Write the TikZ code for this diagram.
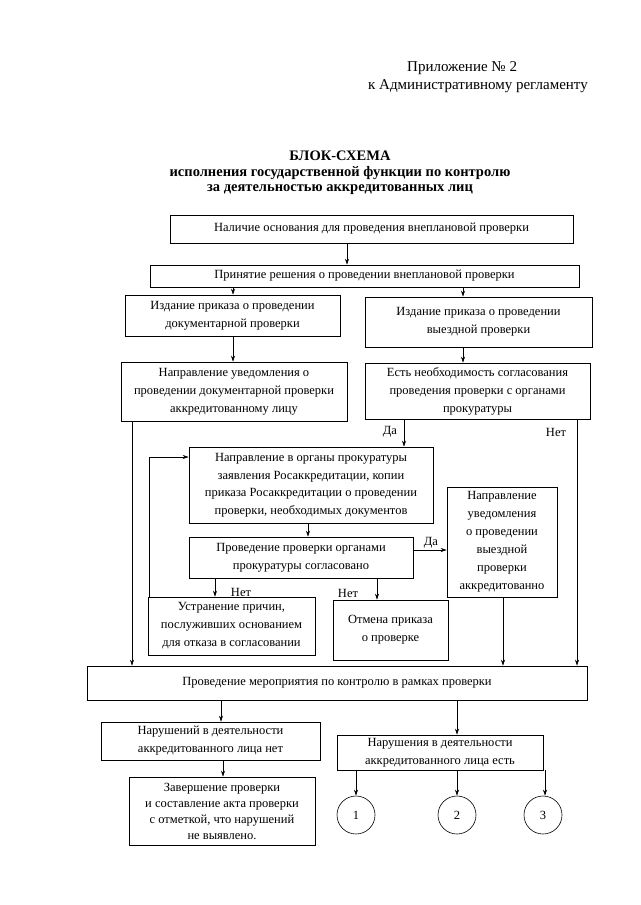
\documentclass[tikz,border=0pt]{standalone}
\usepackage{fontspec}
\setmainfont{Liberation Serif}
\usepackage{tikz}
\usetikzlibrary{arrows.meta}

\begin{document}
\begin{tikzpicture}[x=1pt, y=-1pt,
    box/.style={draw, line width=.6pt, align=center, inner sep=1pt,
                font=\fontsize{12.5}{18}\selectfont},
    krug/.style={draw, circle, line width=.6pt, minimum size=38pt, inner sep=0pt,
                 font=\fontsize{12.5}{18}\selectfont},
    lbl/.style={inner sep=0pt, font=\fontsize{12.5}{15}\selectfont},
    arr/.style={line width=.6pt, -{Stealth[length=6pt,width=4pt]}},
    lin/.style={line width=.6pt}]
             \useasboundingbox (0,0) rectangle (640,905);

             % header
             \node[anchor=west, inner sep=0pt, font=\fontsize{15}{18}\selectfont] (pril) at (407,68) {Приложение № 2};
             \node[anchor=west, inner sep=0pt, font=\fontsize{15}{18}\selectfont] (regl) at (368,86) {к Административному регламенту};
             \node[align=center, inner sep=0pt, font=\fontsize{14.5}{15.5}\bfseries] (titul) at (340,173)
                  {БЛОК-СХЕМА\\исполнения государственной функции по контролю\\за деятельностью аккредитованных лиц};

             % boxes
             \node[box, minimum width=403pt, minimum height=28pt] (nal) at (371.5,229) {Наличие основания для проведения внеплановой проверки};
             \node[box, minimum width=429pt, minimum height=22pt] (prin) at (364.5,276) {Принятие решения о проведении внеплановой проверки};
             \node[box, minimum width=215pt, minimum height=41pt] (izdDok) at (232.5,315.5) {Издание приказа о проведении\\документарной проверки};
             \node[box, minimum width=227pt, minimum height=50pt] (izdVyezd) at (478.5,322) {Издание приказа о проведении\\выездной проверки};
             \node[box, minimum width=226pt, minimum height=59pt] (uvedDok) at (234,391.5) {Направление уведомления о\\проведении документарной проверки\\аккредитованному лицу};
             \node[box, minimum width=225pt, minimum height=56pt] (neobh) at (477.5,391) {Есть необходимость согласования\\проведения проверки с органами\\прокуратуры};
             \node[box, minimum width=244pt, minimum height=76pt, font=\fontsize{12.5}{17.5}\selectfont] (napr) at (311,485) {Направление в органы прокуратуры\\заявления Росаккредитации, копии\\приказа Росаккредитации о проведении\\проверки, необходимых документов};
             \node[box, minimum width=224pt, minimum height=41pt] (sogl) at (301,557.5) {Проведение проверки органами\\прокуратуры согласовано};
             \node[box, minimum width=110pt, minimum height=110pt] (uvedVyezd) at (502,542) {Направление\\уведомления\\о проведении\\выездной\\проверки\\аккредитованно};
             \node[box, minimum width=167pt, minimum height=58pt] (ustr) at (231.5,626) {Устранение причин,\\послуживших основанием\\для отказа в согласовании};
             \node[box, minimum width=115pt, minimum height=60pt] (otm) at (390.5,630) {Отмена приказа\\о проверке};
             \node[box, minimum width=500pt, minimum height=34pt] (merop) at (337,683) {Проведение мероприятия по контролю в рамках проверки};
             \node[box, minimum width=219pt, minimum height=38pt] (narNet) at (210.5,741) {Нарушений в деятельности\\аккредитованного лица нет};
             \node[box, minimum width=186pt, minimum height=68pt, font=\fontsize{12.5}{16}\selectfont] (zaversh) at (222,811) {Завершение проверки\\и составление акта проверки\\с отметкой, что нарушений\\не выявлено.};
             \node[box, minimum width=206pt, minimum height=35pt] (narEst) at (440,752.5) {Нарушения в деятельности\\аккредитованного лица есть};
             \node[krug] (k1) at (356,815) {1};
             \node[krug] (k2) at (457,815) {2};
             \node[krug] (k3) at (543,815) {3};

             % connectors
             \draw[arr] (347,0 |- nal.south) -- (347,0 |- prin.north);
             \draw[arr] (233,0 |- prin.south) -- (233,0 |- izdDok.north);
             \draw[arr] (463,0 |- prin.south) -- (463,0 |- izdVyezd.north);
             \draw[arr] (233,0 |- izdDok.south) -- (233,0 |- uvedDok.north);
             \draw[arr] (463,0 |- izdVyezd.south) -- (463,0 |- neobh.north);
             \draw[arr] (132,0 |- uvedDok.south) -- (132,0 |- merop.north);
             \draw[arr] (404,0 |- neobh.south) -- (404,0 |- napr.north);
             \draw[arr] (577,0 |- neobh.south) -- (577,0 |- merop.north);
             \draw[arr] (308,0 |- napr.south) -- (308,0 |- sogl.north);
             \draw[arr] (sogl.east |- 0,550) -- (uvedVyezd.west |- 0,550);
             \draw[arr] (215,0 |- sogl.south) -- (215,0 |- ustr.north);
             \draw[arr] (377,0 |- sogl.south) -- (377,0 |- otm.north);
             \draw[arr] (149,0 |- ustr.north) |- (napr.west |- 0,457);
             \draw[arr] (503,0 |- uvedVyezd.south) -- (503,0 |- merop.north);
             \draw[arr] (221,0 |- merop.south) -- (221,0 |- narNet.north);
             \draw[arr] (223,0 |- narNet.south) -- (223,0 |- zaversh.north);
             \draw[arr] (457,0 |- merop.south) -- (457,0 |- narEst.north);
             \draw[arr] (k1 |- narEst.south) -- (k1.north);
             \draw[arr] (k2 |- narEst.south) -- (k2.north);
             \draw[arr] (545,0 |- narEst.south) -- (545,0 |- k3.north);

             % labels
             \node[lbl] (da1) at (390,432) {Да};
             \node[lbl] (net1) at (556,432) {Нет};
             \node[lbl] (da2) at (431,543) {Да};
             \node[lbl] (net2) at (241,592) {Нет};
             \node[lbl] (net3) at (348,593) {Нет};
             \end{tikzpicture}
\end{document}
